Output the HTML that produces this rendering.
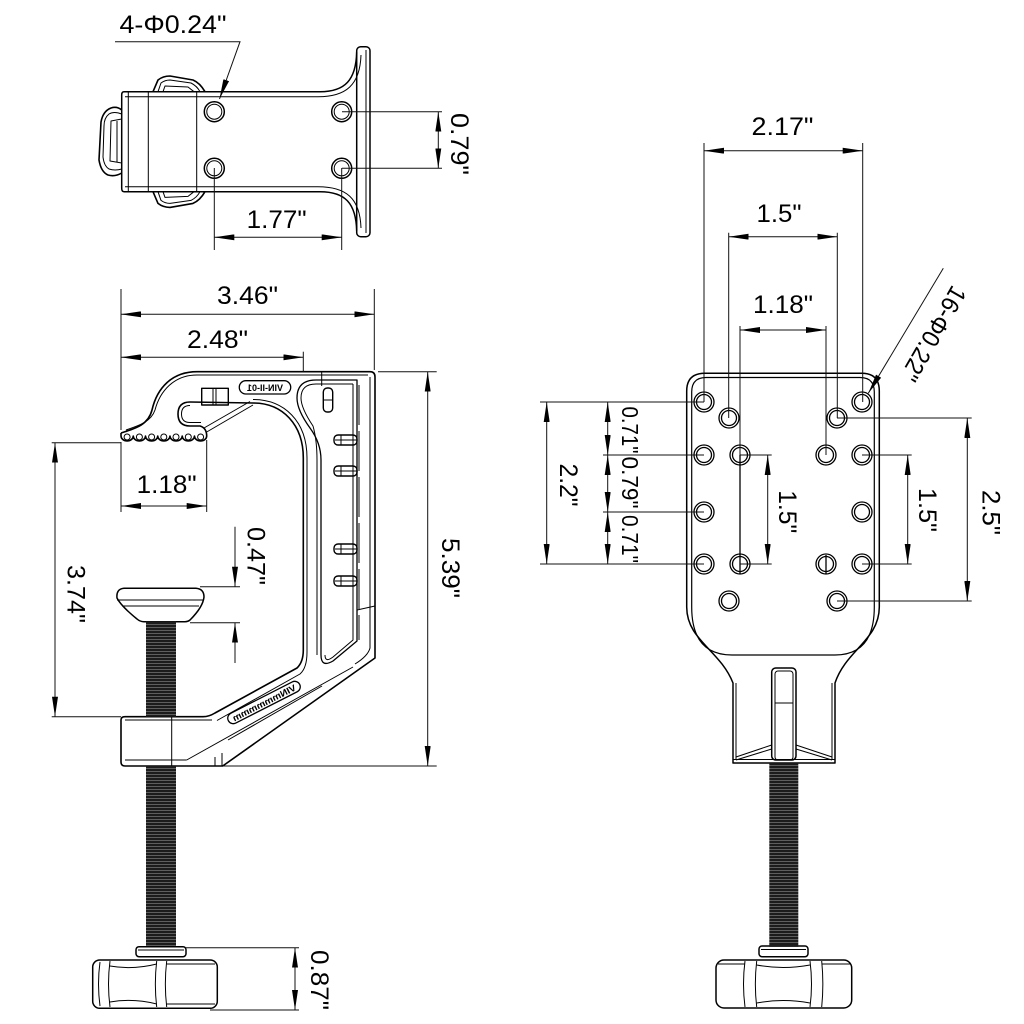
<!DOCTYPE html>
<html><head><meta charset="utf-8"><style>
html,body{margin:0;padding:0;background:#fff;}
svg{display:block;}
text{font-family:"Liberation Sans",Arial,sans-serif;fill:#000;}
</style></head><body>
<svg width="1024" height="1024" viewBox="0 0 1024 1024" xmlns="http://www.w3.org/2000/svg">
<defs>
<marker id="a" viewBox="0 0 20 6" refX="20" refY="3" markerWidth="20" markerHeight="6" markerUnits="userSpaceOnUse" orient="auto-start-reverse"><path d="M0,0L20,3L0,6z" fill="#000"/></marker>
<pattern id="th" width="40" height="3" patternUnits="userSpaceOnUse"><rect width="40" height="3" fill="#1c1c1c"/><rect y="0" width="40" height="0.7" fill="#7a7a7a"/></pattern>
</defs>
<rect width="1024" height="1024" fill="#fff"/>

<!-- ============ TOP VIEW (bracket) ============ -->
<g fill="none" stroke="#000" stroke-width="1.5" stroke-linejoin="round">
  <path d="M124,91.7 L320,91.7 C345,91.7 356,80 356.7,52"/>
  <path d="M124,191.7 L320,191.7 C345,191.7 356,203 356.7,231"/>
  <path d="M124,91.7 Q121.7,91.7 121.7,95 L121.7,188 Q121.7,191.7 124,191.7"/>
  <path d="M125,96.7 L318,96.7 C346,96.7 360,85 361,55" stroke-width="1"/>
  <path d="M125,186.7 L318,186.7 C346,186.7 360,198 361,228" stroke-width="1"/>
  <line x1="128.3" y1="92" x2="128.3" y2="191.5" stroke-width="1"/>
  <line x1="148.3" y1="92" x2="148.3" y2="191.5" stroke-width="1"/>
  <line x1="196.7" y1="92" x2="196.7" y2="191.5" stroke-width="1"/>
  <rect x="356.7" y="46.7" width="13.3" height="190" rx="4"/>
  <line x1="366" y1="50" x2="366" y2="233" stroke-width="1"/>
  <!-- knob left -->
  <path d="M121.7,110 Q117,106 111,108 Q103,111 101,122 L99,160 Q101,172 108,175 Q115,177 121.7,173" stroke-width="1.6"/>
  <path d="M121.7,114 Q114,111 109,114 Q104,118 104,126 L103,157 Q104,166 109,169 Q115,171 121.7,169" stroke-width="1"/>
  <path d="M121.7,119 L111,121 L110,161 L121.7,163" stroke-width="1"/>
  <line x1="117" y1="121" x2="117" y2="162" stroke-width="1"/>
  <!-- wedges -->
  <path d="M153,91.7 L158,80 Q163,76 170,76 L193,80 Q200,83 205,91.7" stroke-width="1.6"/>
  <path d="M158,91.7 L161,83 Q165,80 170,80 L191,83 Q197,86 200,91.7" stroke-width="1"/>
  <path d="M163,91.7 L165,86 L188,87 L194,91.7" stroke-width="1"/>
  <path d="M153,191.7 L158,203.4 Q163,207.4 170,207.4 L193,203.4 Q200,200.4 205,191.7" stroke-width="1.6"/>
  <path d="M158,191.7 L161,200.4 Q165,203.4 170,203.4 L191,200.4 Q197,197.4 200,191.7" stroke-width="1"/>
  <path d="M163,191.7 L165,197.4 L188,196.4 L194,191.7" stroke-width="1"/>
  <!-- holes -->
  <circle cx="214.3" cy="111.7" r="10"/><circle cx="214.3" cy="111.7" r="7.5" stroke-width="1"/>
  <circle cx="214.3" cy="168.3" r="10"/><circle cx="214.3" cy="168.3" r="7.5" stroke-width="1"/>
  <circle cx="341.7" cy="111.7" r="10"/><circle cx="341.7" cy="111.7" r="7.5" stroke-width="1"/>
  <circle cx="341.7" cy="168.3" r="10"/><circle cx="341.7" cy="168.3" r="7.5" stroke-width="1"/>
</g>
<g fill="none" stroke="#111" stroke-width="1">
  <polyline points="115,41.7 240,41.7 219.5,99" marker-end="url(#a)"/>
  <line x1="342" y1="111.7" x2="442" y2="111.7"/>
  <line x1="342" y1="168.3" x2="442" y2="168.3"/>
  <line x1="438.3" y1="111.7" x2="438.3" y2="168.3" marker-start="url(#a)" marker-end="url(#a)"/>
  <line x1="214.3" y1="168" x2="214.3" y2="250"/>
  <line x1="341.7" y1="168" x2="341.7" y2="250"/>
  <line x1="214.3" y1="237.3" x2="341.7" y2="237.3" marker-start="url(#a)" marker-end="url(#a)"/>
</g>
<text x="173" y="33" font-size="25" text-anchor="middle" textLength="107" lengthAdjust="spacingAndGlyphs">4-Φ0.24"</text>
<text x="276.7" y="228" font-size="25" text-anchor="middle" textLength="60" lengthAdjust="spacingAndGlyphs">1.77"</text>
<text transform="translate(460,144) rotate(90)" x="0" y="9" font-size="25" text-anchor="middle" textLength="62" lengthAdjust="spacingAndGlyphs">0.79"</text>

<!-- ============ SIDE VIEW (C clamp) ============ -->
<g fill="none" stroke="#000" stroke-width="1.6" stroke-linejoin="round">
  <path d="M121,433 C133,429 148,426 152,410 C157,388 172,371.7 197,371.7 L370,371.7 Q375,371.7 375,377 L375,658 L222.7,766 L125,766 Q121,766 121,762 L121,720 Q121,716.7 125,716.7 L203,716.7 Q209,716.7 215,713 L297,668 Q303.3,662 303.3,650 L303.3,458 C303.3,425 283,403 253,403 L190,402 Q178,402 178,414 Q178,426 190,426 L200,426 Q206.7,428 206.7,436"/>
  <path d="M206.7,436 a6.12,5 0 0 1 -12.24,0 a6.12,5 0 0 1 -12.24,0 a6.12,5 0 0 1 -12.24,0 a6.12,5 0 0 1 -12.24,0 a6.12,5 0 0 1 -12.24,0 a6.12,5 0 0 1 -12.24,0 a6.12,5 0 0 1 -12.24,0 L121,433"/>
</g>
<g fill="none" stroke="#000" stroke-width="1" stroke-linejoin="round">
  <circle cx="200.6" cy="437" r="3"/><circle cx="188.3" cy="437" r="3"/><circle cx="176" cy="437" r="3"/><circle cx="163.8" cy="437" r="3"/><circle cx="151.6" cy="437" r="3"/><circle cx="139.4" cy="437" r="3"/><circle cx="127.1" cy="437" r="3"/>
  <path d="M126,430 C138,426 151,422 155,410 C160,391 174,375 197,375 L368,375"/>
  <line x1="370" y1="377" x2="370" y2="606"/>
  <path d="M357,610 L375,606"/>
  <path d="M370,606 L370,648 Q368,656 355,664"/>
  <path d="M186.7,760 L353,667"/>
  <path d="M125,720 L212,720"/>
  <path d="M125,760 L186.7,760"/>
  <line x1="171.7" y1="716.7" x2="171.7" y2="766"/>
  <path d="M217,720.5 L300,674 Q307,668 307,652 L307,458 C307,421 284,399.5 253,399.5"/>
  <path d="M228,740 L322,686"/>
  <path d="M215,766 L215,757 M222,766 L222,753"/>
  <!-- hook inner -->
  <path d="M190,405.5 Q181.5,405.5 181.5,414 Q181.5,422.5 190,422.5 L201,422.5"/>
  <path d="M206.7,432 L253,405"/>
  <path d="M204,428 L250,401.5"/>
  <!-- tab -->
  <rect x="201.7" y="388.3" width="26.6" height="16.7" stroke-width="1.4"/>
  <line x1="213" y1="388.3" x2="213" y2="405"/>
  <line x1="216" y1="388.3" x2="216" y2="405"/>
  <line x1="321.7" y1="371.7" x2="321.7" y2="386"/>
  <!-- channel -->
  <path d="M357,380 L316,380 Q297,380 297,398 Q297,410 310,428 Q321,443 321,460 L321,655 Q321,668 333,661 L357,641 Z" stroke-width="1.3"/>
  <path d="M353,384 L316,384 Q301,384 301,398 Q301,408 313,426 Q317,440 317,460 L317,655" />
  <path d="M325,655 Q325,663 333,657 L353,640 L353,384"/>
  <line x1="359" y1="385" x2="359" y2="640" stroke-dasharray="40,6"/>
  <!-- pegs -->
  <rect x="323.3" y="388" width="9.4" height="24" rx="4" stroke-width="1.4"/>
  <line x1="323.3" y1="400" x2="332.7" y2="400"/>
  <rect x="334" y="435" width="23" height="10" rx="4" stroke-width="1.4"/>
  <line x1="335" y1="440" x2="357" y2="440"/><line x1="341" y1="435" x2="341" y2="445"/>
  <rect x="334" y="466" width="23" height="10" rx="4" stroke-width="1.4"/>
  <line x1="335" y1="471" x2="357" y2="471"/><line x1="341" y1="466" x2="341" y2="476"/>
  <rect x="334" y="544" width="23" height="10" rx="4" stroke-width="1.4"/>
  <line x1="335" y1="549" x2="357" y2="549"/><line x1="341" y1="544" x2="341" y2="554"/>
  <rect x="334" y="576" width="23" height="10" rx="4" stroke-width="1.4"/>
  <line x1="335" y1="581" x2="357" y2="581"/><line x1="341" y1="576" x2="341" y2="586"/>
  <!-- labels -->
  <rect x="239.3" y="380.7" width="51.4" height="13.3" rx="6.5" stroke-width="1.3"/>
  <g transform="translate(264,702.5) rotate(-27)">
    <rect x="-40" y="-5.5" width="80" height="11" rx="5.5" stroke-width="1.3"/>
  </g>
</g>
<text transform="translate(265,391) scale(-1,1)" font-size="9" font-weight="bold" text-anchor="middle">VIN-II-01</text>
<text transform="translate(264,702.5) rotate(-27) scale(-1,1)" y="3.5" font-size="9" font-weight="bold" text-anchor="middle" textLength="70" lengthAdjust="spacingAndGlyphs">VINmmmmmm</text>

<!-- upper pad + screw -->
<g fill="none" stroke="#000" stroke-width="1.5" stroke-linejoin="round">
  <path d="M124,588.3 L196,588.3 Q204,589 204,597 Q203,607 190,620 Q188,621.7 185,621.7 L144,621.7 Q140,621.7 137,619 Q121,606 117,598 Q116,589 124,588.3 Z"/>
  <line x1="117" y1="600" x2="204" y2="600" stroke-width="1"/>
  <line x1="122" y1="606" x2="199" y2="606" stroke-width="1"/>
</g>
<rect x="146" y="621.7" width="30" height="95" fill="url(#th)"/>
<rect x="146" y="766" width="30" height="181" fill="url(#th)"/>
<g fill="none" stroke="#000" stroke-width="1.5" stroke-linejoin="round">
  <rect x="136" y="946.7" width="50" height="10" rx="3"/>
  <line x1="138" y1="950" x2="184" y2="950" stroke-width="1"/>
  <rect x="92.7" y="960" width="124.6" height="48.3" rx="7"/>
  <path d="M100,962 Q97,984 100,1006" stroke-width="1"/>
  <path d="M110,961 Q107,984 110,1007" stroke-width="1"/>
  <path d="M156.7,961 Q154,984 156.7,1007" stroke-width="1"/>
  <path d="M166.7,961 Q164,984 166.7,1007" stroke-width="1"/>
  <path d="M110,966 Q133,970 156.7,964" stroke-width="1"/>
  <path d="M110,1002 Q133,998 156.7,1004" stroke-width="1"/>
  <line x1="166.7" y1="964" x2="215" y2="964" stroke-width="1"/>
  <line x1="166.7" y1="1004" x2="215" y2="1004" stroke-width="1"/>
</g>

<!-- side view dims -->
<g fill="none" stroke="#111" stroke-width="1">
  <line x1="121" y1="289" x2="121" y2="430"/>
  <line x1="374.3" y1="289" x2="374.3" y2="370"/>
  <line x1="121" y1="314.3" x2="374.3" y2="314.3" marker-start="url(#a)" marker-end="url(#a)"/>
  <line x1="303.3" y1="351.7" x2="303.3" y2="371.7"/>
  <line x1="121" y1="357.3" x2="303.3" y2="357.3" marker-start="url(#a)" marker-end="url(#a)"/>
  <line x1="378" y1="371.7" x2="436.7" y2="371.7"/>
  <line x1="223" y1="766" x2="436.7" y2="766"/>
  <line x1="427.7" y1="371.7" x2="427.7" y2="766" marker-start="url(#a)" marker-end="url(#a)"/>
  <line x1="51.7" y1="442.7" x2="121" y2="442.7"/>
  <line x1="51.7" y1="716.7" x2="121" y2="716.7"/>
  <line x1="55" y1="442.7" x2="55" y2="716.7" marker-start="url(#a)" marker-end="url(#a)"/>
  <line x1="121" y1="442" x2="121" y2="512"/>
  <line x1="206.7" y1="440" x2="206.7" y2="512"/>
  <line x1="121" y1="506" x2="206.7" y2="506" marker-start="url(#a)" marker-end="url(#a)"/>
  <line x1="200" y1="586.7" x2="240" y2="586.7"/>
  <line x1="190" y1="622.7" x2="240" y2="622.7"/>
  <line x1="235" y1="526.7" x2="235" y2="586.7" marker-end="url(#a)"/>
  <line x1="235" y1="663" x2="235" y2="622.7" marker-end="url(#a)"/>
  <line x1="186" y1="947.7" x2="299" y2="947.7"/>
  <line x1="210" y1="1010" x2="299" y2="1010"/>
  <line x1="295" y1="947.7" x2="295" y2="1010" marker-start="url(#a)" marker-end="url(#a)"/>
</g>
<text x="247.5" y="304" font-size="25" text-anchor="middle" textLength="61" lengthAdjust="spacingAndGlyphs">3.46"</text>
<text x="217.5" y="348" font-size="25" text-anchor="middle" textLength="61" lengthAdjust="spacingAndGlyphs">2.48"</text>
<text x="166.7" y="493" font-size="25" text-anchor="middle" textLength="60" lengthAdjust="spacingAndGlyphs">1.18"</text>
<text transform="translate(256.7,556) rotate(90)" x="0" y="9" font-size="25" text-anchor="middle" textLength="58" lengthAdjust="spacingAndGlyphs">0.47"</text>
<text transform="translate(76.7,594) rotate(90)" x="0" y="9" font-size="25" text-anchor="middle" textLength="58" lengthAdjust="spacingAndGlyphs">3.74"</text>
<text transform="translate(451,568) rotate(90)" x="0" y="9" font-size="25" text-anchor="middle" textLength="60" lengthAdjust="spacingAndGlyphs">5.39"</text>
<text transform="translate(320,980) rotate(90)" x="0" y="9" font-size="25" text-anchor="middle" textLength="60" lengthAdjust="spacingAndGlyphs">0.87"</text>

<!-- ============ FRONT VIEW (right) ============ -->
<g fill="none" stroke="#000" stroke-width="1.5" stroke-linejoin="round">
  <path d="M686.7,391 Q686.7,373.3 705,373.3 L861.7,373.3 Q879.3,373.3 879.3,391 L879.3,607 C879.3,640 846,650 835,683 L835,763 L733,763 L733,683 C720,650 686.7,640 686.7,607 Z"/>
  <path d="M691.7,392 Q691.7,377.5 706,377.5 L860,377.5 Q874.3,377.5 874.3,392 L874.3,607 Q874.3,655 835,655 L732,655 Q691.7,655 691.7,607 Z" stroke-width="1.2"/>
  <line x1="736" y1="683" x2="736" y2="760" stroke-width="1"/>
  <line x1="832" y1="683" x2="832" y2="760" stroke-width="1"/>
  <line x1="733" y1="759.5" x2="835" y2="759.5" stroke-width="1"/>
  <rect x="771.7" y="668" width="24.3" height="92" rx="4"/>
  <rect x="775" y="671" width="18" height="89" rx="3" stroke-width="1"/>
  <line x1="775" y1="703" x2="793" y2="703" stroke-width="1"/>
  <path d="M736,757 L771.7,745 M736,760 L771.7,749 M832,757 L796,745 M832,760 L796,749" stroke-width="1"/>
</g>
<rect x="769.3" y="763" width="29" height="183.7" fill="url(#th)"/>
<g fill="none" stroke="#000" stroke-width="1.5" stroke-linejoin="round">
  <rect x="759" y="946" width="49" height="10.7" rx="3"/>
  <line x1="761" y1="949.5" x2="806" y2="949.5" stroke-width="1"/>
  <rect x="716" y="960" width="135.7" height="48" rx="8"/>
  <path d="M745,961 Q742,984 745,1007" stroke-width="1"/>
  <path d="M756.7,961 Q754,984 756.7,1007" stroke-width="1"/>
  <path d="M810,961 Q813,984 810,1007" stroke-width="1"/>
  <path d="M821.7,961 Q824,984 821.7,1007" stroke-width="1"/>
  <path d="M756.7,965 Q783,970 810,965" stroke-width="1"/>
  <path d="M756.7,1003 Q783,998 810,1003" stroke-width="1"/>
  <line x1="718" y1="964" x2="745" y2="964" stroke-width="1"/>
  <line x1="821.7" y1="964" x2="850" y2="964" stroke-width="1"/>
</g>
<!-- holes -->
<g fill="none" stroke="#000" stroke-width="1.3">
  <circle cx="704" cy="402" r="10"/><circle cx="704" cy="402" r="7.5"/>
  <circle cx="862" cy="402" r="10"/><circle cx="862" cy="402" r="7.5"/>
  <circle cx="729" cy="418" r="10"/><circle cx="729" cy="418" r="7.5"/>
  <circle cx="837" cy="418" r="10"/><circle cx="837" cy="418" r="7.5"/>
  <circle cx="704" cy="455" r="10"/><circle cx="704" cy="455" r="7.5"/>
  <circle cx="740" cy="455" r="10"/><circle cx="740" cy="455" r="7.5"/>
  <circle cx="826" cy="455" r="10"/><circle cx="826" cy="455" r="7.5"/>
  <circle cx="862" cy="455" r="10"/><circle cx="862" cy="455" r="7.5"/>
  <circle cx="704" cy="512" r="10"/><circle cx="704" cy="512" r="7.5"/>
  <circle cx="862" cy="512" r="10"/><circle cx="862" cy="512" r="7.5"/>
  <circle cx="704" cy="564" r="10"/><circle cx="704" cy="564" r="7.5"/>
  <circle cx="740" cy="564" r="10"/><circle cx="740" cy="564" r="7.5"/>
  <circle cx="826" cy="564" r="10"/><circle cx="826" cy="564" r="7.5"/>
  <circle cx="862" cy="564" r="10"/><circle cx="862" cy="564" r="7.5"/>
  <circle cx="729" cy="601" r="10"/><circle cx="729" cy="601" r="7.5"/>
  <circle cx="837" cy="601" r="10"/><circle cx="837" cy="601" r="7.5"/>
  <line x1="740" y1="455" x2="740" y2="574"/>
  <line x1="826" y1="555" x2="826" y2="574"/>
</g>
<g fill="none" stroke="#111" stroke-width="1">
  <line x1="704" y1="143" x2="704" y2="402"/>
  <line x1="862.7" y1="143" x2="862.7" y2="402"/>
  <line x1="704" y1="150.7" x2="862.7" y2="150.7" marker-start="url(#a)" marker-end="url(#a)"/>
  <line x1="728.7" y1="232.7" x2="728.7" y2="418"/>
  <line x1="837.3" y1="232.7" x2="837.3" y2="418"/>
  <line x1="728.7" y1="236.7" x2="837.3" y2="236.7" marker-start="url(#a)" marker-end="url(#a)"/>
  <line x1="740" y1="326" x2="740" y2="455"/>
  <line x1="826" y1="326" x2="826" y2="455"/>
  <line x1="740" y1="330" x2="826" y2="330" marker-start="url(#a)" marker-end="url(#a)"/>
  <line x1="943.3" y1="268.3" x2="868.3" y2="393.3" marker-end="url(#a)"/>
  <line x1="540" y1="402" x2="704" y2="402"/>
  <line x1="540" y1="564" x2="704" y2="564"/>
  <line x1="546.7" y1="402" x2="546.7" y2="564" marker-start="url(#a)" marker-end="url(#a)"/>
  <line x1="603" y1="455" x2="704" y2="455"/>
  <line x1="603" y1="512" x2="704" y2="512"/>
  <line x1="607.7" y1="402" x2="607.7" y2="455" marker-start="url(#a)" marker-end="url(#a)"/>
  <line x1="607.7" y1="455" x2="607.7" y2="512" marker-start="url(#a)" marker-end="url(#a)"/>
  <line x1="607.7" y1="512" x2="607.7" y2="564" marker-start="url(#a)" marker-end="url(#a)"/>
  <line x1="740" y1="455" x2="771.7" y2="455"/>
  <line x1="740" y1="564" x2="771.7" y2="564"/>
  <line x1="767.7" y1="455" x2="767.7" y2="564" marker-start="url(#a)" marker-end="url(#a)"/>
  <line x1="862" y1="455" x2="911.7" y2="455"/>
  <line x1="862" y1="564" x2="911.7" y2="564"/>
  <line x1="907.7" y1="455" x2="907.7" y2="564" marker-start="url(#a)" marker-end="url(#a)"/>
  <line x1="837" y1="418" x2="971.7" y2="418"/>
  <line x1="837" y1="601" x2="971.7" y2="601"/>
  <line x1="967.3" y1="418" x2="967.3" y2="601" marker-start="url(#a)" marker-end="url(#a)"/>
</g>
<text x="782.5" y="135" font-size="25" text-anchor="middle" textLength="62" lengthAdjust="spacingAndGlyphs">2.17"</text>
<text x="779" y="222" font-size="25" text-anchor="middle" textLength="45" lengthAdjust="spacingAndGlyphs">1.5"</text>
<text x="783" y="313" font-size="25" text-anchor="middle" textLength="60" lengthAdjust="spacingAndGlyphs">1.18"</text>
<text transform="translate(934,334) rotate(120)" x="0" y="9" font-size="25" text-anchor="middle" textLength="105" lengthAdjust="spacingAndGlyphs">16-Φ0.22"</text>
<text transform="translate(569,485) rotate(90)" x="0" y="9" font-size="25" text-anchor="middle" textLength="43" lengthAdjust="spacingAndGlyphs">2.2"</text>
<text transform="translate(630,430) rotate(90)" x="0" y="8" font-size="23" text-anchor="middle" textLength="47" lengthAdjust="spacingAndGlyphs">0.71"</text>
<text transform="translate(630,482.5) rotate(90)" x="0" y="8" font-size="23" text-anchor="middle" textLength="52" lengthAdjust="spacingAndGlyphs">0.79"</text>
<text transform="translate(630,539) rotate(90)" x="0" y="8" font-size="23" text-anchor="middle" textLength="48" lengthAdjust="spacingAndGlyphs">0.71"</text>
<text transform="translate(788,511.7) rotate(90)" x="0" y="9" font-size="25" text-anchor="middle" textLength="43" lengthAdjust="spacingAndGlyphs">1.5"</text>
<text transform="translate(928,510) rotate(90)" x="0" y="9" font-size="25" text-anchor="middle" textLength="44" lengthAdjust="spacingAndGlyphs">1.5"</text>
<text transform="translate(991.7,512.5) rotate(90)" x="0" y="9" font-size="25" text-anchor="middle" textLength="45" lengthAdjust="spacingAndGlyphs">2.5"</text>
</svg>
</body></html>
